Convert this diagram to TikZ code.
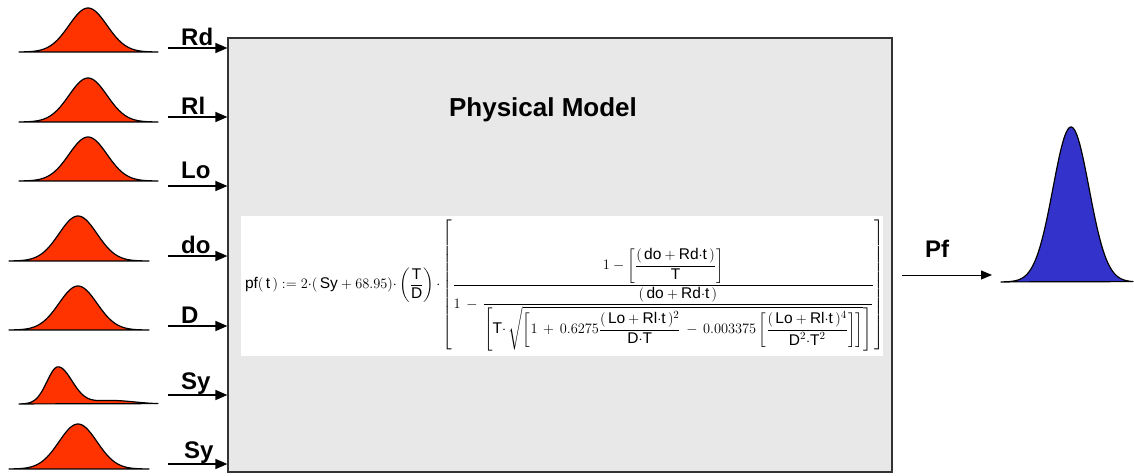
\documentclass[tikz,border=0pt]{standalone}
\usepackage{amsmath}
\usepackage{fontspec}
\setmainfont{Liberation Sans}
\usepackage{tikz}
\usetikzlibrary{positioning, calc, arrows.meta}

\definecolor{inred}{HTML}{FF3300}
\definecolor{outblue}{HTML}{3333CC}
\definecolor{modelgray}{HTML}{E8E8E8}

\newcommand{\tv}[1]{\text{#1}}

\begin{document}
\begin{tikzpicture}[
    x=1pt, y=-1pt,
    model/.style={rectangle, draw=black!80, line width=1.2pt, fill=modelgray, minimum width=664pt, minimum height=434pt, inner sep=0pt},
    formulabox/.style={rectangle, fill=white, minimum width=642pt, minimum height=140pt, inner sep=0pt},
    inlabel/.style={anchor=base west, inner sep=0pt, font=\fontsize{24}{28}\selectfont\bfseries},
    arrow/.style={-{Triangle[length=12pt, width=10pt]}, line width=1.5pt},
    outarrow/.style={-{Triangle[length=11pt, width=9pt]}, line width=1pt},
    redcurve/.style={draw=black, fill=inred, line width=1.2pt, line join=round},
    bluecurve/.style={draw=black, fill=outblue, line width=1.2pt, line join=round}
]
    \useasboundingbox (0,0) rectangle (1134,476);

    % the model box
    \node[model] (model) at (560,255) {};
    \node[font=\fontsize{26}{30}\selectfont\bfseries] (title) at (543,110) {Physical Model};
    \node[formulabox] (fbox) at (562,286) {};
    \node[anchor=west, inner sep=0pt, font=\fontsize{15.5}{18}\selectfont] (formula) at ($(fbox.west)+(4,0)$) {$
        \tv{pf}(\,\tv{t}\,) := 2{\cdot}(\,\tv{Sy} + 68.95){\cdot}\left(\dfrac{\tv{T}}{\tv{D}}\right){\cdot}
        \left[\dfrac{1-\left[\dfrac{(\,\tv{do}+\tv{Rd}{\cdot}\tv{t}\,)}{\tv{T}}\right]}
        {1\,-\,\dfrac{(\,\tv{do}+\tv{Rd}{\cdot}\tv{t}\,)}
        {\left[\tv{T}{\cdot}\,\sqrt{\left[1\,+\,0.6275\dfrac{(\,\tv{Lo}+\tv{Rl}{\cdot}\tv{t}\,)^2}{\tv{D}{\cdot}\tv{T}}\,-\,0.003375\left[\dfrac{(\,\tv{Lo}+\tv{Rl}{\cdot}\tv{t}\,)^4}{\tv{D}^2{\cdot}\tv{T}^2}\right]\right]}\right]}}\right]$};

    % input distributions
    \draw[redcurve] plot[domain=19:158, samples=90] (\x, {52-44*exp(-((\x-88)^2)/(2*19^2))}) -- cycle;
    \draw[redcurve] plot[domain=19:158, samples=90] (\x, {122-44*exp(-((\x-88)^2)/(2*19^2))}) -- cycle;
    \draw[redcurve] plot[domain=19:158, samples=90] (\x, {181-44*exp(-((\x-88)^2)/(2*19^2))}) -- cycle;
    \draw[redcurve] plot[domain=9:149, samples=90] (\x, {261-45*exp(-((\x-78)^2)/(2*19^2))}) -- cycle;
    \draw[redcurve] plot[domain=9:149, samples=90] (\x, {330-44*exp(-((\x-78)^2)/(2*19^2))}) -- cycle;
    \draw[redcurve] plot[domain=19:158, samples=120] (\x, {404-37*exp(-((\x-58)^2)/(2*(\x<58 ? 11 : 14)^2))-3.5*exp(-((\x-112)^2)/(2*22^2))}) -- cycle;
    \draw[redcurve] plot[domain=9:149, samples=90] (\x, {469-45*exp(-((\x-78)^2)/(2*19^2))}) -- cycle;

    % input labels
    \node[inlabel] (rd) at (181,46) {Rd};
    \node[inlabel] (rl) at (181,115) {Rl};
    \node[inlabel] (lo) at (181,178) {Lo};
    \node[inlabel] (do) at (181,253) {do};
    \node[inlabel] (d) at (181,323) {D};
    \node[inlabel] (sy) at (181,389) {Sy};
    \node[inlabel] (sy2) at (184,458) {Sy};

    % input arrows
    \coordinate (rd-in) at (168,48);
    \coordinate (rl-in) at (168,117);
    \coordinate (lo-in) at (168,186);
    \coordinate (do-in) at (168,256);
    \coordinate (d-in) at (168,326);
    \coordinate (sy-in) at (168,395);
    \coordinate (sy2-in) at (168,464);
    \draw[arrow] (rd-in) -- (rd-in -| model.west);
    \draw[arrow] (rl-in) -- (rl-in -| model.west);
    \draw[arrow] (lo-in) -- (lo-in -| model.west);
    \draw[arrow] (do-in) -- (do-in -| model.west);
    \draw[arrow] (d-in) -- (d-in -| model.west);
    \draw[arrow] (sy-in) -- (sy-in -| model.west);
    \draw[arrow] (sy2-in) -- (sy2-in -| model.west);

    % output
    \node[inlabel] (pf) at (925,257) {Pf};
    \coordinate (pf-out) at (902,275);
    \coordinate (pf-end) at (992,275);
    \draw[outarrow] (pf-out) -- (pf-end);
    \draw[bluecurve] plot[domain=1001:1133, samples=100] (\x, {282-155*exp(-((\x-1071)^2)/(2*18^2))}) -- cycle;
\end{tikzpicture}
\end{document}
